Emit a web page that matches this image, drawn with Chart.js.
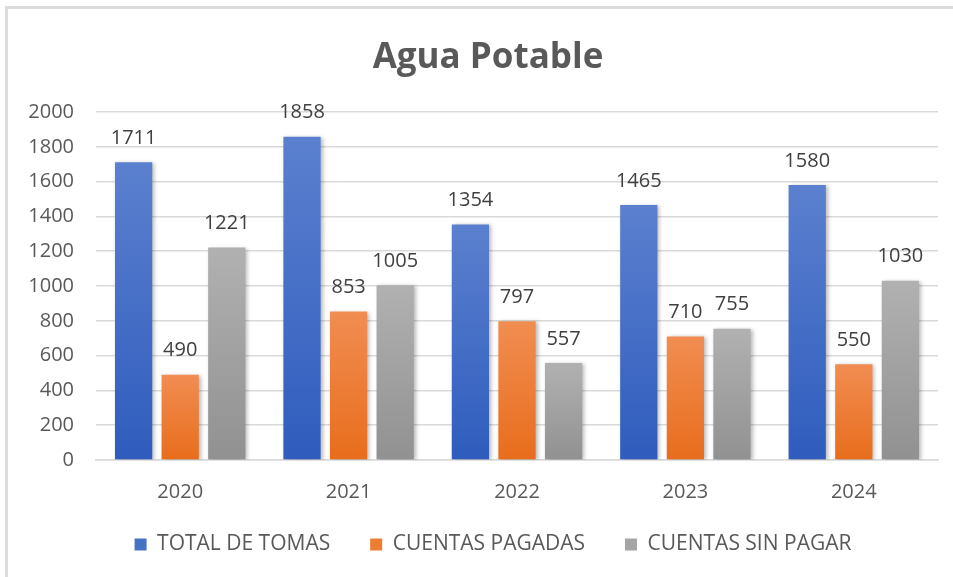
<!DOCTYPE html>
<html>
<head>
<meta charset="utf-8">
<script src="https://cdn.jsdelivr.net/npm/chart.js@4/dist/chart.umd.min.js"></script>
<style>
  html, body { margin: 0; padding: 0; background: #fff; }
  #marco {
    position: absolute; left: 5px; top: 6px; width: 960px; height: 580px;
    border-top: 3px solid #dcdcdc; border-left: 3px solid #dcdcdc;
  }
  #caja { position: absolute; left: 0; top: 0; width: 953px; height: 577px; }
</style>
</head>
<body>
<div id="marco"></div>
<div id="caja"><canvas id="grafico-agua"></canvas></div>
<script>
// datos
const anios = ['2020', '2021', '2022', '2023', '2024'];
const totalTomas = [1711, 1858, 1354, 1465, 1580];
const cuentasPagadas = [490, 853, 797, 710, 550];
const cuentasSinPagar = [1221, 1005, 557, 755, 1030];
const etiquetasSeries = ['TOTAL DE TOMAS', 'CUENTAS PAGADAS', 'CUENTAS SIN PAGAR'];

const fuente = "'Open Sans', 'Liberation Sans', sans-serif";

// degradado por barra, como en Excel
function degradado(arriba, abajo) {
    return function(ctx) {
        const chart = ctx.chart;
        const area = chart.chartArea;
        if (!area || ctx.type !== 'data') return abajo;
        const yTop = chart.scales.y.getPixelForValue(ctx.parsed.y);
        const g = chart.ctx.createLinearGradient(0, yTop, 0, area.bottom);
        g.addColorStop(0, arriba);
        g.addColorStop(1, abajo);
        return g;
    };
}

const coloresSolidos = ['#4472c4', '#ed7d31', '#a5a5a5'];

const etiquetasDatos = {
    id: 'etiquetasDatos',
    afterLayout(chart) {
        // mover leyenda y titulo como en el original
        chart.legend.top -= 10;
        chart.legend.bottom -= 10;
        chart.legend.left += 24;
        chart.legend.right += 24;
        chart.titleBlock.left += 19;
        chart.titleBlock.right += 19;
    },
    beforeDatasetsDraw(chart) {
        const c = chart.ctx;
        c.save();
        c.shadowColor = 'rgba(0,0,0,0.28)';
        c.shadowBlur = 4;
        c.shadowOffsetX = 2;
        c.shadowOffsetY = 1;
    },
    afterDatasetsDraw(chart) {
        const c = chart.ctx;
        c.restore();
        c.save();
        c.font = '20px ' + fuente;
        c.fillStyle = '#404040';
        c.textAlign = 'center';
        c.textBaseline = 'middle';
        chart.data.datasets.forEach((ds, i) => {
            chart.getDatasetMeta(i).data.forEach((barra, j) => {
                c.fillText(ds.data[j], barra.x, barra.y - 24);
            });
        });
        c.restore();
    }
};

new Chart(document.getElementById('grafico-agua'), {
    type: 'bar',
    data: {
        labels: anios,
        datasets: [
            { label: etiquetasSeries[0], data: totalTomas, backgroundColor: degradado('#5b80cf', '#2f5cbd') },
            { label: etiquetasSeries[1], data: cuentasPagadas, backgroundColor: degradado('#f18d52', '#e86d1c') },
            { label: etiquetasSeries[2], data: cuentasSinPagar, backgroundColor: degradado('#b1b1b1', '#919191') }
        ]
    },
    options: {
        responsive: true,
        maintainAspectRatio: false,
        animation: false,
        layout: { padding: { left: 0, right: 15, top: 10, bottom: 2 } },
        datasets: { bar: { categoryPercentage: 0.83, barPercentage: 0.8 } },
        plugins: {
            title: {
                display: true,
                text: 'Agua Potable',
                color: '#595959',
                font: { family: fuente, size: 35, weight: 'bold' },
                padding: { top: 27, bottom: 33 }
            },
            legend: {
                position: 'bottom',
                labels: {
                    boxWidth: 12,
                    boxHeight: 12,
                    padding: 40,
                    color: '#595959',
                    font: { family: fuente, size: 21 },
                    generateLabels: function(chart) {
                        return chart.data.datasets.map((ds, i) => ({
                            text: ds.label,
                            fillStyle: coloresSolidos[i],
                            strokeStyle: coloresSolidos[i],
                            lineWidth: 0,
                            fontColor: '#595959',
                            datasetIndex: i,
                            hidden: false
                        }));
                    }
                }
            },
            tooltip: { enabled: false }
        },
        scales: {
            y: {
                min: 0,
                max: 2000,
                ticks: {
                    stepSize: 200, padding: 22, color: '#595959', font: { family: fuente, size: 20 },
                    callback: function(value) { return String(value); }
                },
                grid: { color: '#d9d9d9', lineWidth: 1.5, drawTicks: false },
                border: { display: false },
                afterFit: function(scale) { scale.width = 96; }
            },
            x: {
                ticks: { padding: 20, color: '#595959', font: { family: fuente, size: 20 } },
                grid: { display: false, drawTicks: false },
                border: { color: '#d9d9d9', width: 1.5 },
                afterFit: function(scale) { scale.height = 44; }
            }
        }
    },
    plugins: [etiquetasDatos]
});
</script>
</body>
</html>
